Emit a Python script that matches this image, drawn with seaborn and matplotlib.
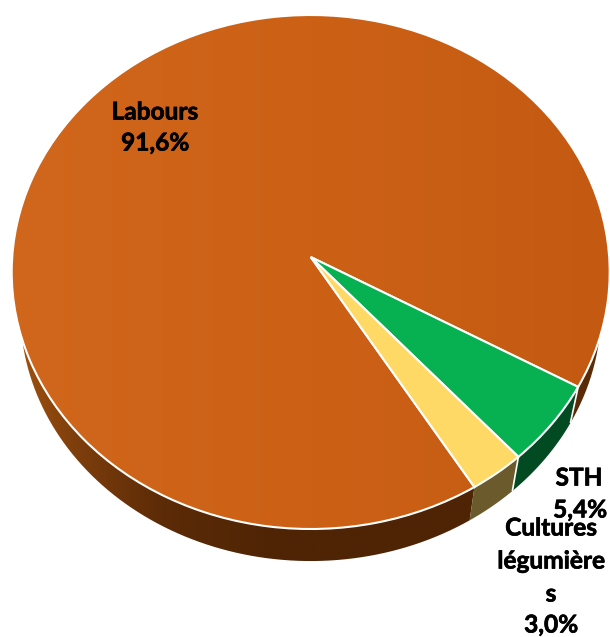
import numpy as np
import matplotlib
matplotlib.use("Agg")
import matplotlib.pyplot as plt
import matplotlib.patheffects as pe
from matplotlib.colors import LinearSegmentedColormap
from matplotlib.patches import PathPatch
from matplotlib.path import Path
import seaborn as sns

categories = ["Labours", "STH", "Cultures\nlégumière\ns"]
values = [91.6, 5.4, 3.0]
value_labels = ["91,6%", "5,4%", "3,0%"]

top_colors = sns.color_palette(["#C95D14", "#07B151", "#FFD966"])
side_colors = sns.color_palette(["#4F2405", "#024A22", "#6B5A2C"])

W, H = 610, 637
CX, CY, RX, RY = 310.7, 272, 299, 257      # top ellipse, pixels
APEX_Y = 257                               # perspective: apex above ellipse centre
DEPTH_PX, SHRINK = 39.5, 0.971             # lower ellipse
START = -56.8

sns.set_theme(style="white")
plt.rcParams["font.family"] = ["Lato", "DejaVu Sans"]

fig = plt.figure(figsize=(W / 100, H / 100), dpi=100)
ax = fig.add_axes([0, 0, 1, 1])

xlim = (-CX / RX, (W - CX) / RX)
ylim = (-(H - CY) / RY, CY / RY)
depth = DEPTH_PX / RY


def px(x, y):
    return (x - CX) / RX, (CY - y) / RY


wedges, _ = ax.pie(values, colors=top_colors, startangle=START, counterclock=False,
                   radius=1, center=(0, 0),
                   wedgeprops=dict(edgecolor="white", linewidth=1.5, zorder=5))
ax.set_aspect("auto")

# perspective: move the common apex of the wedges
apex = np.array(px(CX, APEX_Y))
for w in wedges:
    p = w.get_path()
    v = p.vertices.copy()
    v[np.all(np.abs(v) < 1e-9, axis=1)] = apex
    w._path = Path(v, p.codes)

# angular boundaries, from the values
fractions = np.array(values) / sum(values)
bounds = START - 360 * np.cumsum(np.r_[0, fractions])


def band(a0, a1):
    t = np.radians(np.linspace(a0, a1, 160))
    tx, ty = np.cos(t), np.sin(t)
    bx, by = SHRINK * tx, SHRINK * ty - depth
    return np.r_[tx, bx[::-1]], np.r_[ty, by[::-1]]


# side wall: small sectors
for i in (1, 2):
    bx_, by_ = band(bounds[i] + 360, bounds[i + 1] + 360)
    ax.fill(bx_, by_, color=side_colors[i], lw=0, zorder=2)

# side wall: large sector with a horizontal gradient
side_cmap = LinearSegmentedColormap.from_list(
    "side", [(0, "#A5530F"), (0.10, "#7F3F0C"), (0.25, "#5C2B07"), (0.45, "#4E2405"),
             (0.78, "#4F2405"), (1, "#5E2D09")])
grad = np.linspace(0, 1, 256)[None, :]
for a0, a1 in [(-180, bounds[0]), (bounds[1] + 360, 0)]:
    bx_, by_ = band(a0, a1)
    im = ax.imshow(grad, extent=(-1, 1, -1.3, 1), cmap=side_cmap, aspect="auto", zorder=1,
                   vmin=0, vmax=1, interpolation="bilinear")
    clip = PathPatch(Path(np.c_[bx_, by_]), transform=ax.transData, fc="none", ec="none")
    ax.add_patch(clip)
    im.set_clip_path(clip)

# top face of the large sector with a faint gradient
top_cmap = LinearSegmentedColormap.from_list("top", ["#D1671C", "#CC6116", "#C45A12"])
im = ax.imshow(grad, extent=(-1, 1, -1, 1), cmap=top_cmap, aspect="auto", zorder=4,
               vmin=0, vmax=1, interpolation="bilinear")
im.set_clip_path(wedges[0].get_path(), ax.transData)
wedges[0].set_facecolor("none")

# white dividers on the side wall
for a in bounds[1:3]:
    t = np.radians(a)
    ax.plot([np.cos(t), SHRINK * np.cos(t)], [np.sin(t), SHRINK * np.sin(t) - depth],
            color="white", lw=1.2, zorder=3, solid_capstyle="butt")

ax.set_xlim(*xlim)
ax.set_ylim(*ylim)
ax.axis("off")

# labels
FS = 17.6
label_pos = [[(155, 112), (155, 143)], [(579, 478), (580, 510)],
             [(551, 528), (551, 561), (551, 594), (551, 625)]]
for name, val, pos in zip(categories, value_labels, label_pos):
    lines = name.split("\n") + [val]
    for line, (x, y) in zip(lines, pos):
        tx, ty = px(x, y)
        ax.text(tx, ty, line, ha="center", va="center", fontsize=FS, fontweight="bold",
                color="black", zorder=6,
                path_effects=[pe.withStroke(linewidth=0.5, foreground="black")])

fig.savefig("out.png", dpi=100)
